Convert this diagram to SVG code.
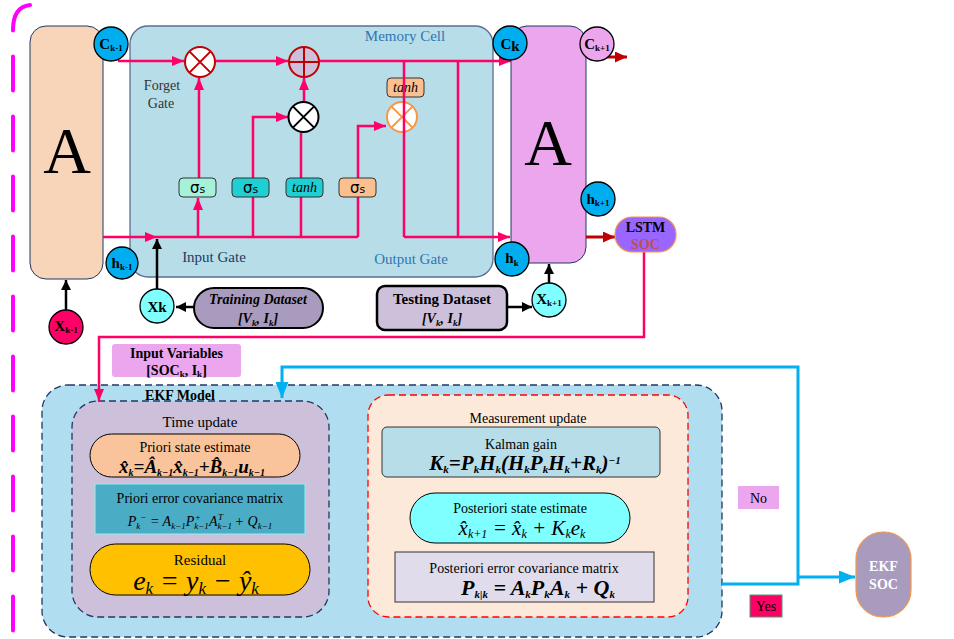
<svg xmlns="http://www.w3.org/2000/svg" width="954" height="639" viewBox="0 0 954 639">
<defs>
<style>
text{font-family:"Liberation Serif","Times New Roman",serif;fill:#000}
.pk{stroke:#FF0066;stroke-width:2.5;fill:none}
.bk{stroke:#000;stroke-width:2.5;fill:none}
.bl{stroke:#00B0F0;stroke-width:3;fill:none}
.rd{stroke:#C00000;stroke-width:3;fill:none}
.cir{stroke:#000;stroke-width:1.3}
.gate{stroke:#333;stroke-width:1}
.sg{font-family:"DejaVu Sans","Liberation Sans",sans-serif;font-size:15px}
.lbl{font-size:14px}
.cl{font-size:15px;font-weight:bold}
.sub{font-size:9px;font-weight:bold}
.fm{font-style:italic}
</style>
<marker id="ap" markerUnits="userSpaceOnUse" markerWidth="12" markerHeight="10" refX="12" refY="5" orient="auto"><path d="M0,0 L12,5 L0,10 z" fill="#FF0066"/></marker>
<marker id="ab" markerUnits="userSpaceOnUse" markerWidth="10" markerHeight="10" refX="10" refY="5" orient="auto"><path d="M0,0 L10,5 L0,10 z" fill="#000"/></marker>
<marker id="ac" markerUnits="userSpaceOnUse" markerWidth="16" markerHeight="13" refX="16" refY="6.5" orient="auto"><path d="M0,0 L16,6.5 L0,13 z" fill="#00B0F0"/></marker>
<marker id="ar" markerUnits="userSpaceOnUse" markerWidth="12" markerHeight="11" refX="12" refY="5.5" orient="auto"><path d="M0,0 L12,5.5 L0,11 z" fill="#C00000"/></marker>
</defs>
<rect width="954" height="639" fill="#fff"/>

<!-- left dashed boundary -->
<path d="M30,5 Q13,7 13,30 V639" stroke="#FF00FF" stroke-width="4" fill="none" stroke-dasharray="34 26" stroke-linecap="round"/>

<!-- containers -->
<g id="lstm-prev">
<rect x="30" y="26" width="73" height="253" rx="16" fill="#F8D5B8" stroke="#1F3864" stroke-width="1"/>
<text x="67" y="173" text-anchor="middle" font-size="66">A</text>
</g>
<g id="memory-cell">
<rect x="130" y="26" width="363" height="251" rx="18" fill="#B7DDE8" stroke="#5A6E96" stroke-width="1.3"/>
<text x="405" y="41" text-anchor="middle" font-size="15" style="fill:#2E75B6">Memory Cell</text>
<text x="162" y="90" text-anchor="middle" class="lbl" style="fill:#333">Forget</text>
<text x="161" y="108" text-anchor="middle" class="lbl" style="fill:#333">Gate</text>
<text x="214" y="262" text-anchor="middle" font-size="15" style="fill:#1F3864">Input Gate</text>
<text x="411" y="264" text-anchor="middle" font-size="15" style="fill:#2E75B6">Output Gate</text>
</g>
<g id="lstm-next">
<rect x="511" y="26" width="75" height="237" rx="16" fill="#EBA6EE" stroke="#1F3864" stroke-width="1"/>
<text x="548" y="165" text-anchor="middle" font-size="66">A</text>
</g>
<g id="output-tanh">
<rect x="387" y="78" width="37" height="19" rx="4" fill="#FAC090" class="gate"/>
<text x="405.5" y="92" text-anchor="middle" font-size="14" font-style="italic">tanh</text>
<circle cx="402" cy="117" r="15" fill="#fff" stroke="#F79646" stroke-width="2"/>
<path d="M391.4,106.4 L412.6,127.6 M412.6,106.4 L391.4,127.6" stroke="#F79646" stroke-width="2"/>
</g>

<g id="ekf-model">
<rect x="42" y="385" width="680" height="252" rx="26" fill="#B0DEF0" stroke="#1F3864" stroke-width="1.3" stroke-dasharray="7 4"/>
</g>
<g id="time-update">
<rect x="72" y="401" width="257" height="216" rx="26" fill="#CCC0DA" stroke="#1F3864" stroke-width="1.3" stroke-dasharray="7 4"/>
<text x="200" y="427" text-anchor="middle" font-size="15">Time update</text>
</g>
<text x="180" y="400" text-anchor="middle" font-size="14" font-weight="bold">EKF Model</text>
<g id="measurement-update">
<rect x="368" y="395" width="320" height="222" rx="20" fill="#FDE9D9" stroke="#FF0000" stroke-width="1.3" stroke-dasharray="7 4"/>
<text x="528" y="423" text-anchor="middle" class="lbl">Measurement update</text>
</g>

<!-- connectors -->
<g id="connectors">
<path class="pk" d="M118,61 H184" marker-end="url(#ap)"/>
<path class="pk" d="M215,61 H288" marker-end="url(#ap)"/>
<path class="pk" d="M319,61 H511" marker-end="url(#ap)"/>
<path class="pk" d="M404,61 V237 M458,61 V237"/>
<path class="pk" d="M404,237 H510" marker-end="url(#ap)"/>
<path class="pk" d="M103,237 H157" marker-end="url(#ap)"/>
<path class="pk" d="M157,237 H358"/>
<path class="pk" d="M198,237 V198" marker-end="url(#ap)"/>
<path class="pk" d="M199,178 V78" marker-end="url(#ap)"/>
<path class="pk" d="M253,237 V117 H288" marker-end="url(#ap)"/>
<path class="pk" d="M301,237 V133"/>
<path class="pk" d="M304,102 V78" marker-end="url(#ap)"/>
<path class="pk" d="M358,237 V126 H386" marker-end="url(#ap)"/>
<path class="bk" d="M66,310 V280" marker-end="url(#ab)"/>
<path class="bk" d="M157,289 V239" marker-end="url(#ab)"/>
<path class="bk" d="M194,307 H176" marker-end="url(#ab)"/>
<path class="bk" d="M549,283 V264" marker-end="url(#ab)"/>
<path class="bk" d="M507,307 H532" marker-end="url(#ab)"/>
<path class="rd" d="M606,57 H627" marker-end="url(#ar)"/>
<path class="rd" d="M586,237 H615" marker-end="url(#ar)"/>
<path class="pk" stroke-width="3" d="M644,252 V337 H99 V401" marker-end="url(#ap)"/>
<path class="bl" d="M722,584 H798 V367 H282 V398" marker-end="url(#ac)"/>
<path class="bl" d="M798,577 H855" marker-end="url(#ac)"/>
</g>

<!-- operators -->
<g id="forget-mult">
<circle cx="200" cy="62" r="15" fill="#fff" stroke="#C00000" stroke-width="2"/>
<path d="M189.4,51.4 L210.6,72.6 M210.6,51.4 L189.4,72.6" stroke="#C00000" stroke-width="2"/>
</g>
<g id="cell-add">
<circle cx="304" cy="62" r="15" fill="#CCC0DA" stroke="#C00000" stroke-width="2"/>
<path d="M304,47 V77 M289,62 H319" stroke="#C00000" stroke-width="2"/>
</g>
<g id="input-mult">
<circle cx="303.5" cy="117" r="15" fill="#fff" stroke="#000" stroke-width="2"/>
<path d="M292.9,106.4 L314.1,127.6 M314.1,106.4 L292.9,127.6" stroke="#000" stroke-width="2"/>
</g>

<!-- gate boxes -->
<g id="gate-forget">
<rect x="179" y="178" width="37" height="19" rx="4" fill="#A5F2D9" class="gate"/>
<text x="197.5" y="193" text-anchor="middle" class="sg">σ<tspan font-size="11">s</tspan></text>
</g>
<g id="gate-input">
<rect x="232" y="178" width="37" height="19" rx="4" fill="#1FCFD4" class="gate"/>
<text x="250.5" y="193" text-anchor="middle" class="sg">σ<tspan font-size="11">s</tspan></text>
</g>
<g id="gate-tanh">
<rect x="286" y="178" width="37" height="19" rx="4" fill="#1FCFD4" class="gate"/>
<text x="304.5" y="192" text-anchor="middle" font-size="14" font-style="italic">tanh</text>
</g>
<g id="gate-output">
<rect x="339" y="178" width="37" height="19" rx="4" fill="#FAC090" class="gate"/>
<text x="357.5" y="193" text-anchor="middle" class="sg">σ<tspan font-size="11">s</tspan></text>
</g>

<!-- state circles -->
<g id="c-prev"><circle cx="111" cy="44" r="17" fill="#00AEEF" class="cir"/><text x="111" y="49" text-anchor="middle"><tspan class="cl">C</tspan><tspan class="sub" dy="2">k-1</tspan></text></g>
<g id="c-k"><circle cx="510" cy="43" r="17" fill="#00AEEF" class="cir"/><text x="510" y="49" text-anchor="middle"><tspan class="cl" font-size="16">C</tspan><tspan class="cl" font-size="12" dy="2">k</tspan></text></g>
<g id="c-next"><circle cx="597" cy="44" r="17" fill="#EBA6EE" class="cir"/><text x="597" y="49" text-anchor="middle"><tspan class="cl">C</tspan><tspan class="sub" dy="2">k+1</tspan></text></g>
<g id="h-next"><circle cx="598" cy="199" r="17" fill="#00AEEF" class="cir"/><text x="598" y="204" text-anchor="middle"><tspan class="cl">h</tspan><tspan class="sub" dy="2">k+1</tspan></text></g>
<g id="h-k"><circle cx="512" cy="259" r="17" fill="#00AEEF" class="cir"/><text x="512" y="263" text-anchor="middle"><tspan class="cl">h</tspan><tspan class="sub" dy="3">k</tspan></text></g>
<g id="h-prev"><circle cx="122" cy="263" r="16" fill="#00AEEF" class="cir"/><text x="122" y="268" text-anchor="middle"><tspan class="cl">h</tspan><tspan class="sub" dy="2">k-1</tspan></text></g>
<g id="x-k"><circle cx="157" cy="306" r="17" fill="#7FFFFF" class="cir"/><text x="157" y="312" text-anchor="middle"><tspan class="cl" font-size="16">X</tspan><tspan class="cl" font-size="12">k</tspan></text></g>
<g id="x-next"><circle cx="549" cy="300" r="17" fill="#7FFFFF" class="cir"/><text x="549" y="304" text-anchor="middle"><tspan class="cl">X</tspan><tspan class="sub" dy="2">k+1</tspan></text></g>
<g id="x-prev"><circle cx="66" cy="327" r="17" fill="#FF0066" class="cir"/><text x="66" y="331" text-anchor="middle"><tspan class="cl">X</tspan><tspan class="sub" dy="2">k-1</tspan></text></g>

<!-- datasets -->
<g id="training-dataset">
<rect x="194" y="288" width="129" height="40" rx="20" fill="#A99BBD" stroke="#000" stroke-width="2"/>
<text x="258" y="304" text-anchor="middle" font-size="14" font-weight="bold" font-style="italic">Training Dataset</text>
<text x="258" y="323" text-anchor="middle" font-size="14" font-style="italic" font-weight="bold">[V<tspan font-size="9" dy="3">k</tspan><tspan dy="-3">, I</tspan><tspan font-size="9" dy="3">k</tspan><tspan dy="-3">]</tspan></text>
</g>
<g id="testing-dataset">
<rect x="377" y="286" width="130" height="44" rx="8" fill="#CCC0DA" stroke="#000" stroke-width="2.5"/>
<text x="442" y="304" text-anchor="middle" font-size="15" font-weight="bold">Testing Dataset</text>
<text x="442" y="323" text-anchor="middle" font-size="14" font-style="italic" font-weight="bold">[V<tspan font-size="9" dy="3">k</tspan><tspan dy="-3">, I</tspan><tspan font-size="9" dy="3">k</tspan><tspan dy="-3">]</tspan></text>
</g>
<g id="lstm-soc">
<rect x="615" y="217" width="61" height="35" rx="17" fill="#9966FF" stroke="#F79646" stroke-width="1.2"/>
<text x="645.5" y="232" text-anchor="middle" font-size="14" font-weight="bold">LSTM</text>
<text x="645.5" y="249" text-anchor="middle" font-size="14" font-weight="bold" style="fill:#C0504D">SOC</text>
</g>
<g id="input-variables">
<rect x="112" y="344" width="129" height="33" rx="3" fill="#EBA6EE"/>
<text x="176.5" y="358" text-anchor="middle" font-size="14" font-weight="bold">Input Variables</text>
<text x="176.5" y="375" text-anchor="middle" font-size="14" font-weight="bold">[SOC<tspan font-size="9" dy="2">k</tspan><tspan dy="-2">, I</tspan><tspan font-size="9" dy="2">k</tspan><tspan dy="-2">]</tspan></text>
</g>

<!-- time update nodes -->
<g id="priori-state">
<rect x="90" y="434" width="210" height="43" rx="21.5" fill="#F9C39B" stroke="#000" stroke-width="1"/>
<text x="195" y="452" text-anchor="middle" class="lbl">Priori state estimate</text>
<text x="192" y="473" text-anchor="middle" font-size="19" font-weight="bold" font-style="italic">x̂<tspan font-size="10" dy="3">k</tspan><tspan dy="-3">=Â</tspan><tspan font-size="10" dy="3">k−1</tspan><tspan dy="-3">x̂</tspan><tspan font-size="10" dy="3">k−1</tspan><tspan dy="-3">+B̂</tspan><tspan font-size="10" dy="3">k−1</tspan><tspan dy="-3">u</tspan><tspan font-size="10" dy="3">k−1</tspan></text>
</g>
<g id="priori-cov">
<rect x="95" y="484" width="210" height="50" fill="#4BACC6" stroke="#92F0F0" stroke-width="1"/>
<text x="200" y="503" text-anchor="middle" class="lbl">Priori error covariance matrix</text>
<text x="200" y="526" text-anchor="middle" font-size="14" font-style="italic">P<tspan font-size="9" dy="3">k</tspan><tspan font-size="9" dy="-9">−</tspan><tspan dy="6"> = A</tspan><tspan font-size="9" dy="3">k−1</tspan><tspan dy="-3">P</tspan><tspan font-size="9" dy="3">k−1</tspan><tspan font-size="9" dy="-9" dx="-14">+</tspan><tspan dy="6" dx="8">A</tspan><tspan font-size="9" dy="3">k−1</tspan><tspan font-size="9" dy="-9" dx="-14">T</tspan><tspan dy="6" dx="8"> + Q</tspan><tspan font-size="9" dy="3">k−1</tspan></text>
</g>
<g id="residual">
<rect x="90" y="544" width="220" height="51" rx="25.5" fill="#FFC000" stroke="#000" stroke-width="1"/>
<text x="200" y="565" text-anchor="middle" font-size="15">Residual</text>
<text x="196" y="590" text-anchor="middle" font-size="28" font-style="italic">e<tspan font-size="17" dy="4">k</tspan><tspan dy="-4"> = y</tspan><tspan font-size="17" dy="4">k</tspan><tspan dy="-4"> − ŷ</tspan><tspan font-size="17" dy="4">k</tspan></text>
</g>

<!-- measurement update nodes -->
<g id="kalman-gain">
<rect x="382" y="427" width="278" height="50" rx="5" fill="#B7DDE8" stroke="#333" stroke-width="1"/>
<text x="521" y="449" text-anchor="middle" class="lbl">Kalman gain</text>
<text x="525" y="470" text-anchor="middle" font-size="21" font-weight="bold" font-style="italic">K<tspan font-size="11" dy="3">k</tspan><tspan dy="-3">=P</tspan><tspan font-size="11" dy="3">k</tspan><tspan dy="-3">H</tspan><tspan font-size="11" dy="3">k</tspan><tspan dy="-3">(H</tspan><tspan font-size="11" dy="3">k</tspan><tspan dy="-3">P</tspan><tspan font-size="11" dy="3">k</tspan><tspan dy="-3">H</tspan><tspan font-size="11" dy="3">k</tspan><tspan dy="-3">+R</tspan><tspan font-size="11" dy="3">k</tspan><tspan dy="-3">)</tspan><tspan font-size="11" dy="-6">−1</tspan></text>
</g>
<g id="posteriori-state">
<rect x="410" y="493" width="220" height="50" rx="25" fill="#7FFFFF" stroke="#000" stroke-width="1"/>
<text x="520" y="513" text-anchor="middle" class="lbl">Posteriori state estimate</text>
<text x="522" y="535" text-anchor="middle" font-size="21" font-style="italic">x̂<tspan font-size="12" dy="3">k+1</tspan><tspan dy="-3"> = x̂</tspan><tspan font-size="12" dy="3">k</tspan><tspan dy="-3"> + K</tspan><tspan font-size="12" dy="3">k</tspan><tspan dy="-3">e</tspan><tspan font-size="12" dy="3">k</tspan></text>
</g>
<g id="posteriori-cov">
<rect x="395" y="552" width="259" height="50" fill="#E0DCEB" stroke="#333" stroke-width="1"/>
<text x="524" y="573" text-anchor="middle" class="lbl">Posteriori error covariance matrix</text>
<text x="538" y="595" text-anchor="middle" font-size="22" font-weight="bold" font-style="italic">P<tspan font-size="11" dy="3">k|k</tspan><tspan dy="-3"> = A</tspan><tspan font-size="11" dy="3">k</tspan><tspan dy="-3">P</tspan><tspan font-size="11" dy="3">k</tspan><tspan dy="-3">A</tspan><tspan font-size="11" dy="3">k</tspan><tspan dy="-3"> + Q</tspan><tspan font-size="11" dy="3">k</tspan></text>
</g>

<!-- decision labels / output -->
<g id="label-no">
<rect x="738" y="486" width="41" height="23" fill="#EBA6EE"/>
<text x="758.5" y="503" text-anchor="middle" class="lbl">No</text>
</g>
<g id="label-yes">
<rect x="750" y="595" width="32" height="22" fill="#FF0066" stroke="#4E9A6E" stroke-width="1"/>
<text x="766" y="611" text-anchor="middle" class="lbl">Yes</text>
</g>
<g id="ekf-soc">
<rect x="856" y="532" width="55" height="85" rx="27" fill="#A99BBD" stroke="#F79646" stroke-width="1.2"/>
<text x="883.5" y="571" text-anchor="middle" font-size="14" font-weight="bold" style="fill:#fff">EKF</text>
<text x="883.5" y="589" text-anchor="middle" font-size="14" font-weight="bold" style="fill:#fff">SOC</text>
</g>
</svg>
